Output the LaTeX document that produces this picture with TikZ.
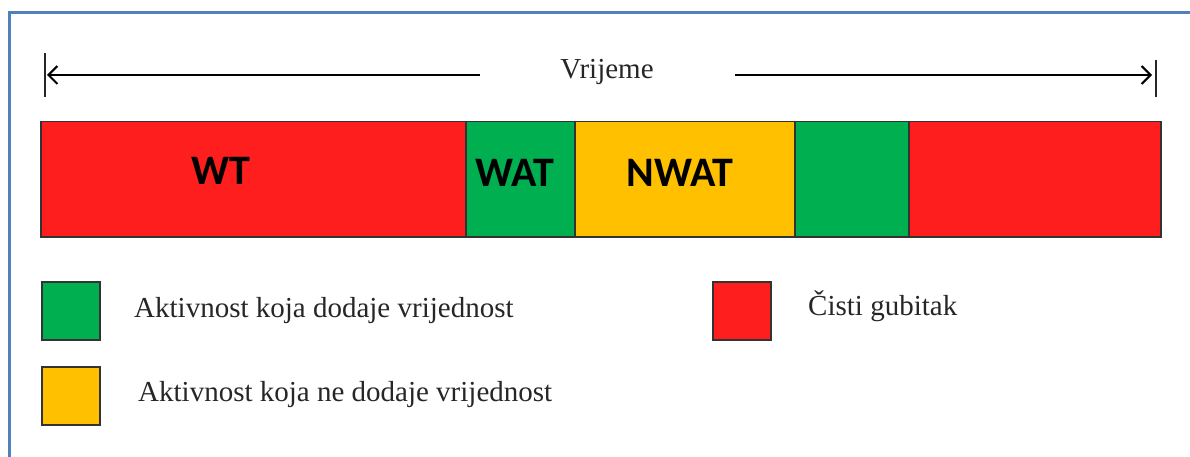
\documentclass[tikz,border=0pt]{standalone}
\usepackage{fontspec}
\setmainfont{Liberation Serif}
\newfontfamily\labelfont{Carlito}
\usetikzlibrary{arrows.meta}
\definecolor{wred}{RGB}{255,30,30}
\definecolor{wgreen}{RGB}{0,176,80}
\definecolor{wyellow}{RGB}{255,192,0}
\definecolor{frameblue}{RGB}{79,129,189}
\tikzset{%
  segment/.style  = {draw=black!80, line width=1.5pt, minimum height=115pt,%
                     inner sep=0pt, anchor=north west},%
  swatch/.style   = {segment, minimum width=58pt, minimum height=58pt},%
  seglabel/.style = {font=\labelfont\bfseries\fontsize{42}{48}\selectfont,%
                     inner sep=0pt, anchor=base},%
  legtext/.style  = {font=\fontsize{29}{34}\selectfont, inner sep=0pt,%
                     anchor=base west, text=black!85},%
  timeline/.style = {line width=2pt, -{Straight Barb[length=9pt,width=18pt,line width=2pt]}}%
}
\begin{document}
\begin{tikzpicture}[x=1pt,y=-1pt]
	\useasboundingbox (0,0) rectangle (1190,457);
	% frame
	\draw[frameblue, line width=3pt] (9,457) -- (9,13) -- (1190,13);
	% time axis
	\node[legtext, anchor=base] (time) at (607,79) {Vrijeme};
	\coordinate (lstart) at (480,75);
	\coordinate (rstart) at (735,75);
	\coordinate (lend) at (47,75);
	\coordinate (rend) at (1152,75);
	\draw[line width=2pt, black!85] (45,53) -- (45,97);
	\draw[line width=2pt, black!85] (1156,60) -- (1156,97);
	\draw[timeline] (lstart) -- (lend);
	\draw[timeline] (rstart) -- (rend);
	% bar
	\node[segment, fill=wred,    minimum width=425pt] (wt)   at (40,121)  {};
	\node[segment, fill=wgreen,  minimum width=109pt] (wat)  at (465,121) {};
	\node[segment, fill=wyellow, minimum width=220pt] (nwat) at (574,121) {};
	\node[segment, fill=wgreen,  minimum width=114pt] (wat2) at (794,121) {};
	\node[segment, fill=wred,    minimum width=252pt] (wt2)  at (908,121) {};
	\node[seglabel] (wtlabel)   at (221,185) {WT};
	\node[seglabel] (watlabel)  at (515,186) {WAT};
	\node[seglabel] (nwatlabel) at (680,186) {NWAT};
	% legend
	\node[swatch, fill=wgreen]  (keygreen)  at (41,281)  {};
	\node[swatch, fill=wred]    (keyred)    at (712,281) {};
	\node[swatch, fill=wyellow] (keyyellow) at (41,366)  {};
	\node[legtext] (greentext)  at (134,317) {Aktivnost koja dodaje vrijednost};
	\node[legtext] (redtext)    at (808,315) {Čisti gubitak};
	\node[legtext] (yellowtext) at (138,401) {Aktivnost koja ne dodaje vrijednost};
\end{tikzpicture}
\end{document}
